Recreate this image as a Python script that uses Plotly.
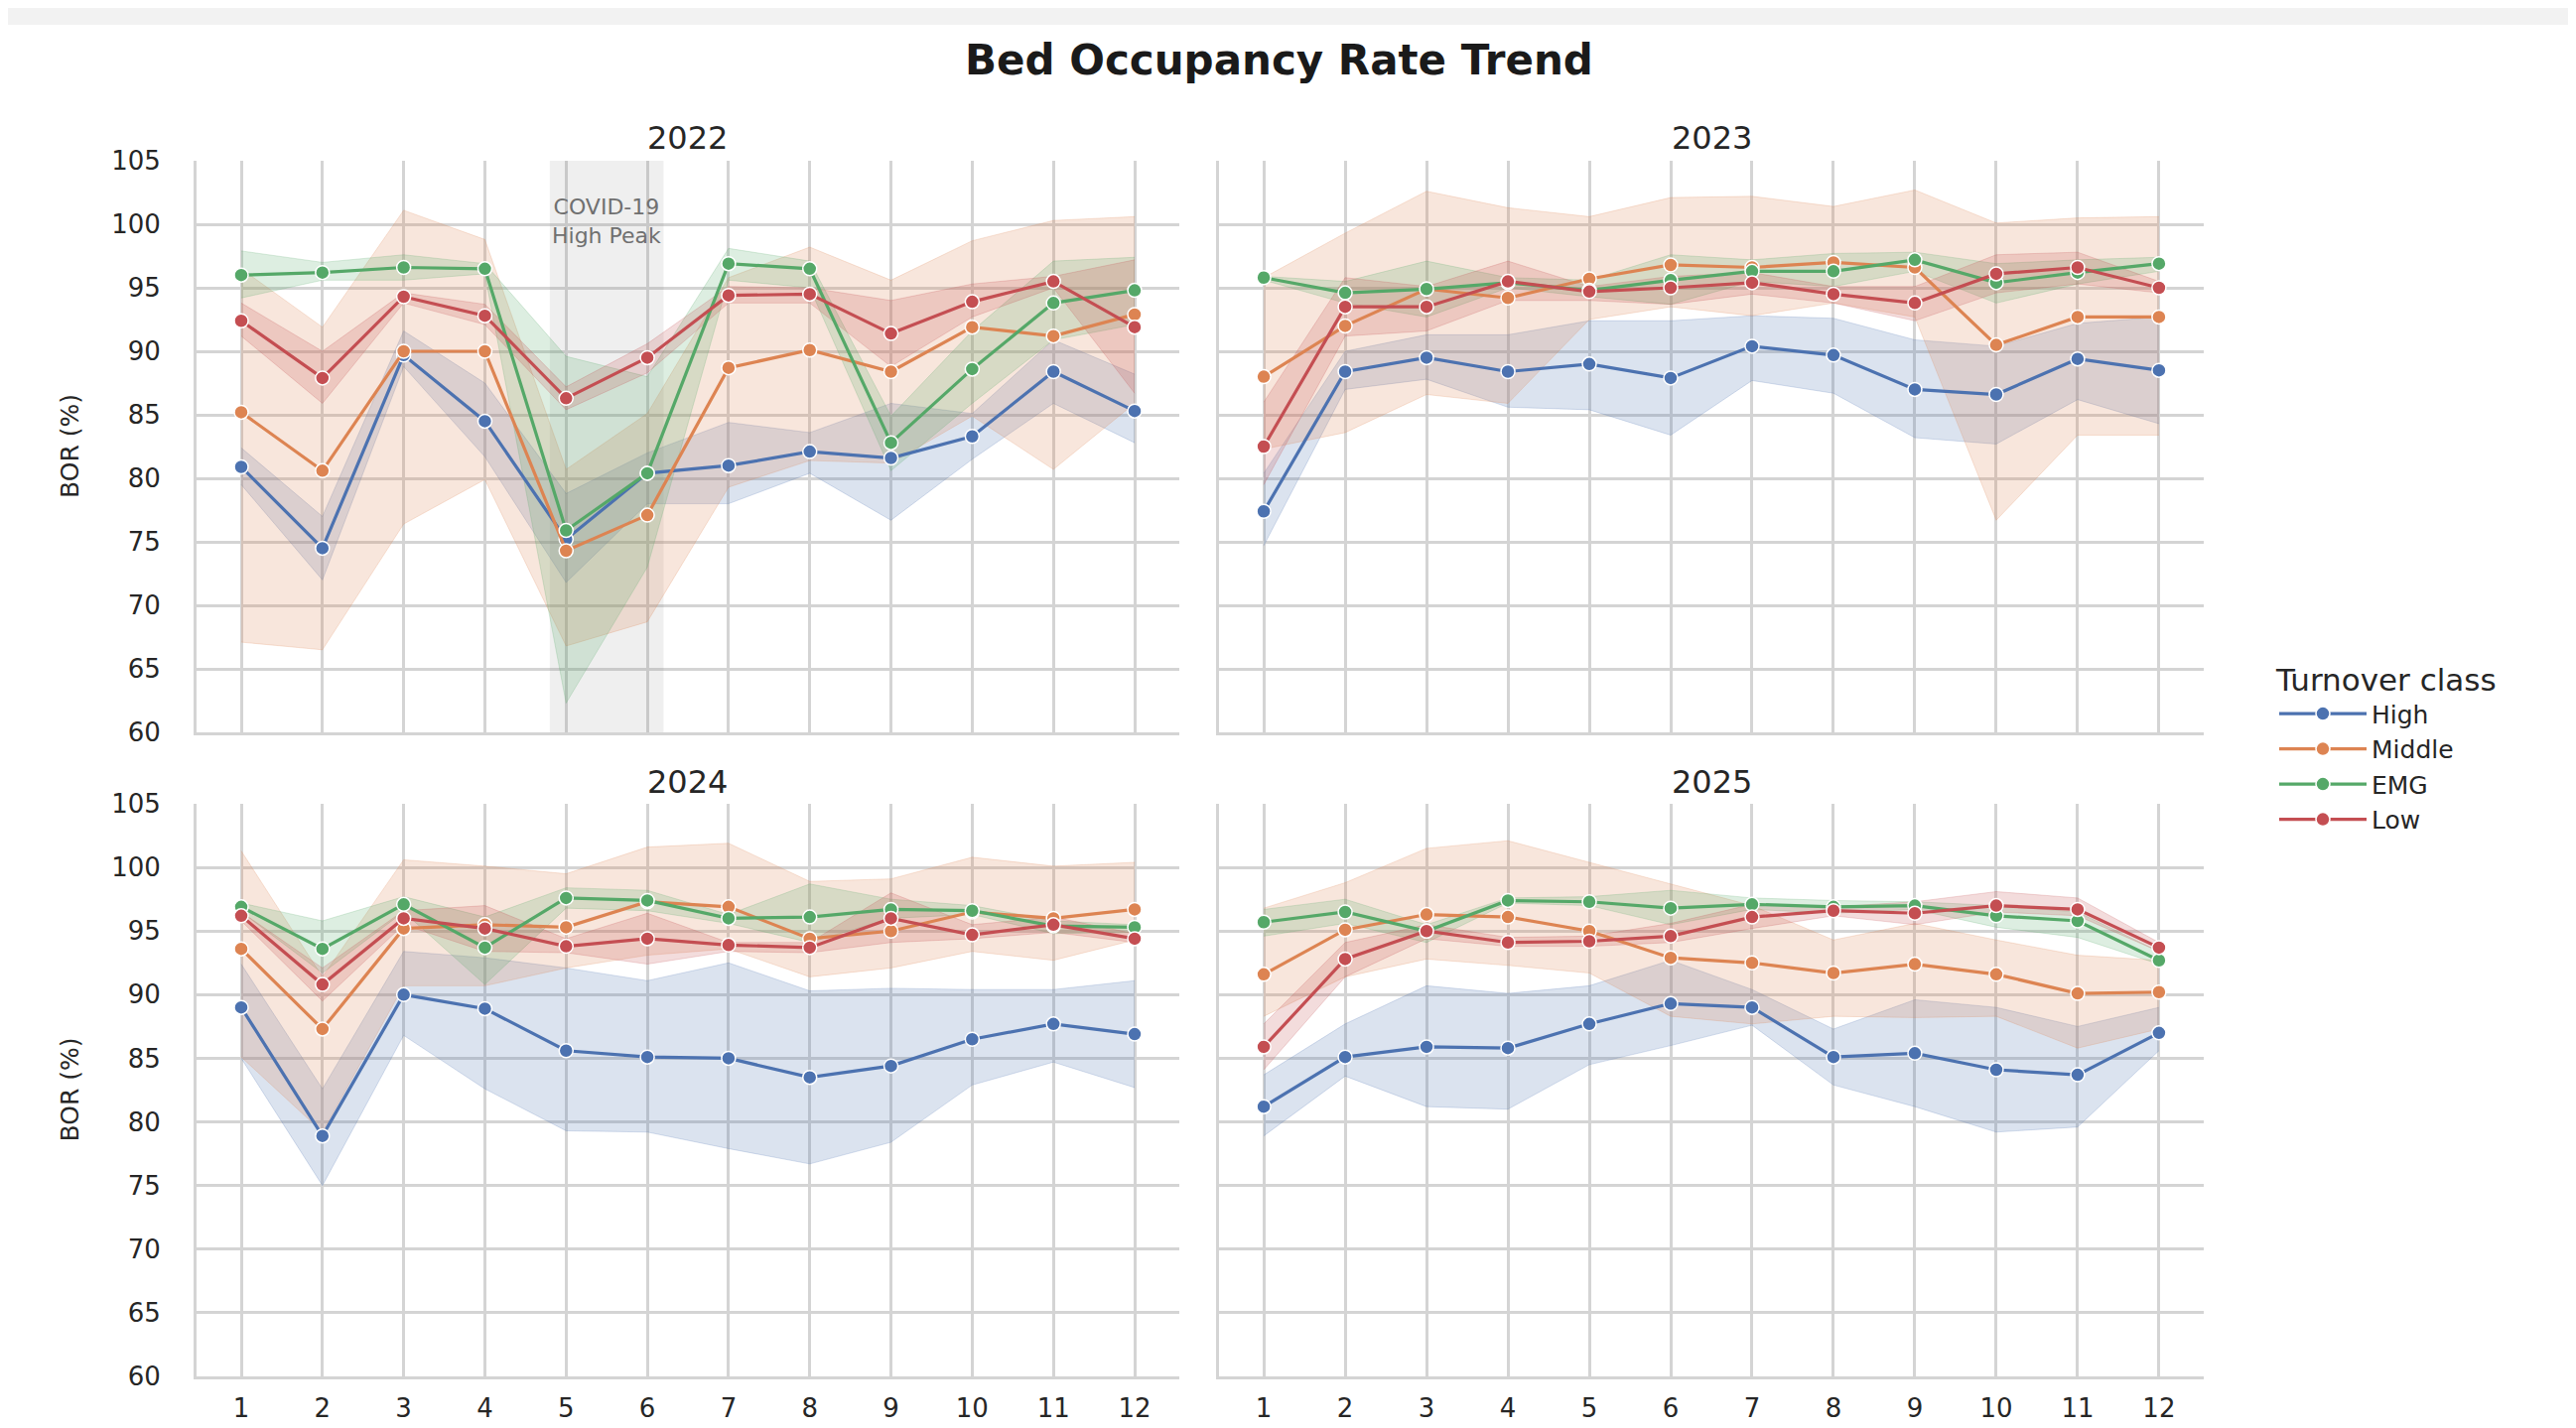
import plotly.graph_objects as go

MONTHS = list(range(1, 13))
YEARS = [2022, 2023, 2024, 2025]
CLASSES = ["High", "Middle", "EMG", "Low"]
COLORS = {"High": "#4C72B0", "Middle": "#DD8452", "EMG": "#55A868", "Low": "#C44E52"}
RGB = {"High": (76, 114, 176), "Middle": (221, 132, 82), "EMG": (85, 168, 104), "Low": (196, 78, 82)}
Y_TICKS = [60, 65, 70, 75, 80, 85, 90, 95, 100, 105]
COVID_SPAN = [4.8, 6.2]

# ---- 2022 ----
HIGH_2022 = [80.9, 74.5, 89.7, 84.5, 75.2, 80.4, 81.0, 82.1, 81.6, 83.3, 88.4, 85.3]
HIGH_2022_LO = [79.5, 72.0, 88.8, 81.7, 71.8, 78.0, 78.0, 80.4, 76.7, 81.5, 85.9, 82.8]
HIGH_2022_HI = [82.4, 77.0, 91.6, 87.5, 78.8, 82.0, 84.4, 83.6, 85.9, 85.1, 90.9, 88.2]
MIDDLE_2022 = [85.2, 80.6, 90.0, 90.0, 74.3, 77.1, 88.7, 90.1, 88.4, 91.9, 91.2, 92.9]
MIDDLE_2022_LO = [67.1, 66.5, 76.4, 79.9, 66.8, 68.7, 79.3, 81.4, 81.2, 84.9, 80.7, 85.9]
MIDDLE_2022_HI = [96.5, 91.9, 101.1, 98.8, 80.7, 85.1, 95.8, 98.2, 95.6, 98.7, 100.3, 100.6]
EMG_2022 = [96.0, 96.2, 96.6, 96.5, 75.9, 80.4, 96.9, 96.5, 82.8, 88.6, 93.8, 94.8]
EMG_2022_LO = [94.2, 95.6, 95.6, 96.1, 62.3, 73.0, 95.6, 95.0, 80.6, 85.9, 90.9, 92.1]
EMG_2022_HI = [97.9, 97.0, 97.6, 96.9, 89.6, 88.0, 98.1, 97.1, 84.9, 91.6, 97.1, 97.4]
LOW_2022 = [92.4, 87.9, 94.3, 92.8, 86.3, 89.5, 94.4, 94.5, 91.4, 93.9, 95.5, 91.9]
LOW_2022_LO = [91.2, 85.9, 93.8, 92.1, 85.4, 88.3, 93.8, 93.8, 88.8, 92.7, 95.0, 86.7]
LOW_2022_HI = [93.8, 90.0, 94.6, 93.7, 87.2, 90.6, 95.1, 95.0, 94.0, 95.3, 95.9, 97.2]

# ---- 2023 ----
HIGH_2023 = [77.4, 88.4, 89.5, 88.4, 89.0, 87.9, 90.4, 89.7, 87.0, 86.6, 89.4, 88.5]
HIGH_2023_LO = [74.7, 87.0, 87.8, 85.6, 85.4, 83.4, 87.7, 86.7, 83.2, 82.7, 86.2, 84.3]
HIGH_2023_HI = [80.4, 90.0, 91.3, 91.3, 92.4, 92.4, 92.8, 92.6, 90.9, 90.4, 92.2, 92.7]
MIDDLE_2023 = [88.0, 92.0, 94.9, 94.2, 95.7, 96.8, 96.6, 97.0, 96.6, 90.5, 92.7, 92.7]
MIDDLE_2023_LO = [82.3, 83.6, 86.6, 85.9, 92.5, 93.5, 92.8, 93.8, 92.7, 76.7, 83.4, 83.4]
MIDDLE_2023_HI = [95.8, 99.3, 102.6, 101.3, 100.6, 102.1, 102.2, 101.4, 102.7, 100.1, 100.5, 100.6]
EMG_2023 = [95.8, 94.6, 94.9, 95.4, 94.8, 95.6, 96.3, 96.3, 97.2, 95.4, 96.2, 96.9]
EMG_2023_LO = [95.6, 93.8, 92.7, 95.0, 94.3, 93.7, 95.5, 95.1, 96.3, 93.8, 95.3, 96.3]
EMG_2023_HI = [95.9, 95.5, 97.1, 95.8, 95.6, 97.6, 97.2, 97.7, 97.8, 96.9, 97.2, 97.4]
LOW_2023 = [82.5, 93.5, 93.5, 95.5, 94.7, 95.0, 95.4, 94.5, 93.8, 96.1, 96.6, 95.0]
LOW_2023_LO = [79.5, 91.2, 91.6, 94.0, 94.0, 93.7, 94.5, 93.8, 92.4, 94.6, 95.3, 94.6]
LOW_2023_HI = [86.0, 95.8, 95.1, 97.1, 95.1, 95.9, 96.2, 95.1, 95.1, 97.6, 97.8, 95.5]

# ---- 2024 ----
HIGH_2024 = [89.0, 78.9, 90.0, 88.9, 85.6, 85.1, 85.0, 83.5, 84.4, 86.5, 87.7, 86.9]
HIGH_2024_LO = [85.0, 75.0, 86.8, 82.6, 79.3, 79.2, 77.9, 76.7, 78.4, 82.9, 84.7, 82.7]
HIGH_2024_HI = [92.4, 82.6, 93.4, 92.9, 92.1, 91.1, 92.5, 90.3, 90.5, 90.4, 90.4, 91.1]
MIDDLE_2024 = [93.6, 87.3, 95.2, 95.5, 95.3, 97.3, 96.9, 94.4, 95.0, 96.5, 96.0, 96.7]
MIDDLE_2024_LO = [85.1, 79.2, 90.7, 90.7, 92.1, 93.1, 93.6, 91.4, 92.1, 93.4, 92.7, 94.3]
MIDDLE_2024_HI = [101.3, 91.4, 100.6, 100.1, 99.5, 101.6, 101.9, 98.9, 99.1, 100.8, 100.1, 100.4]
EMG_2024 = [96.9, 93.6, 97.1, 93.7, 97.6, 97.4, 96.0, 96.1, 96.7, 96.6, 95.4, 95.3]
EMG_2024_LO = [96.5, 91.7, 96.5, 90.8, 96.8, 96.6, 95.6, 94.1, 96.0, 96.3, 94.8, 94.9]
EMG_2024_HI = [97.2, 95.8, 97.7, 96.1, 98.4, 98.2, 96.3, 98.7, 97.5, 97.0, 95.8, 95.5]
LOW_2024 = [96.2, 90.8, 96.0, 95.2, 93.8, 94.4, 93.9, 93.7, 96.0, 94.7, 95.5, 94.4]
LOW_2024_LO = [95.8, 89.5, 95.5, 93.4, 93.3, 92.4, 93.4, 93.3, 94.1, 94.4, 94.9, 94.1]
LOW_2024_HI = [96.5, 92.1, 96.6, 97.0, 94.4, 96.4, 94.1, 94.1, 98.0, 95.5, 96.1, 94.8]

# ---- 2025 ----
HIGH_2025 = [81.2, 85.1, 85.9, 85.8, 87.7, 89.3, 89.0, 85.1, 85.4, 84.1, 83.7, 87.0]
HIGH_2025_LO = [78.9, 83.6, 81.2, 81.0, 84.5, 86.0, 87.6, 82.9, 81.2, 79.2, 79.6, 85.6]
HIGH_2025_HI = [83.7, 87.7, 90.7, 90.1, 90.7, 92.7, 90.4, 87.3, 89.6, 89.0, 87.5, 89.0]
MIDDLE_2025 = [91.6, 95.1, 96.3, 96.1, 95.0, 92.9, 92.5, 91.7, 92.4, 91.6, 90.1, 90.2]
MIDDLE_2025_LO = [88.3, 91.4, 92.8, 92.3, 91.7, 88.3, 87.7, 88.3, 88.2, 88.3, 85.8, 87.3]
MIDDLE_2025_HI = [96.8, 98.8, 101.5, 102.1, 100.4, 98.7, 97.0, 94.3, 95.6, 94.3, 93.1, 92.7]
EMG_2025 = [95.7, 96.5, 95.0, 97.4, 97.3, 96.8, 97.1, 96.9, 97.0, 96.2, 95.8, 92.7]
EMG_2025_LO = [94.6, 95.6, 94.1, 97.2, 97.0, 95.5, 96.7, 96.4, 96.7, 95.3, 94.5, 92.4]
EMG_2025_HI = [96.7, 97.5, 95.5, 97.6, 97.7, 98.2, 97.6, 97.4, 97.3, 97.0, 96.5, 93.4]
LOW_2025 = [85.9, 92.8, 95.0, 94.1, 94.2, 94.6, 96.1, 96.6, 96.4, 97.0, 96.7, 93.7]
LOW_2025_LO = [84.1, 91.4, 94.4, 93.8, 93.8, 94.1, 95.2, 96.2, 95.5, 96.5, 96.2, 93.4]
LOW_2025_HI = [87.7, 94.1, 95.5, 94.5, 94.6, 95.6, 97.1, 96.9, 97.3, 98.1, 97.6, 94.1]

DATA = {
    2022: {"High": (HIGH_2022, HIGH_2022_LO, HIGH_2022_HI),
           "Middle": (MIDDLE_2022, MIDDLE_2022_LO, MIDDLE_2022_HI),
           "EMG": (EMG_2022, EMG_2022_LO, EMG_2022_HI),
           "Low": (LOW_2022, LOW_2022_LO, LOW_2022_HI)},
    2023: {"High": (HIGH_2023, HIGH_2023_LO, HIGH_2023_HI),
           "Middle": (MIDDLE_2023, MIDDLE_2023_LO, MIDDLE_2023_HI),
           "EMG": (EMG_2023, EMG_2023_LO, EMG_2023_HI),
           "Low": (LOW_2023, LOW_2023_LO, LOW_2023_HI)},
    2024: {"High": (HIGH_2024, HIGH_2024_LO, HIGH_2024_HI),
           "Middle": (MIDDLE_2024, MIDDLE_2024_LO, MIDDLE_2024_HI),
           "EMG": (EMG_2024, EMG_2024_LO, EMG_2024_HI),
           "Low": (LOW_2024, LOW_2024_LO, LOW_2024_HI)},
    2025: {"High": (HIGH_2025, HIGH_2025_LO, HIGH_2025_HI),
           "Middle": (MIDDLE_2025, MIDDLE_2025_LO, MIDDLE_2025_HI),
           "EMG": (EMG_2025, EMG_2025_LO, EMG_2025_HI),
           "Low": (LOW_2025, LOW_2025_LO, LOW_2025_HI)},
}

W, H = 2595, 1439
OFF = 8  # page body margin
FONT = "DejaVu Sans"
TXT = "#262626"
GRID = "#d4d4d4"


def px(v):
    return (v - OFF) / W


def py(v):
    return 1 - (v - OFF) / H


X_DOMAINS = [[px(198), px(1188)], [px(1228), px(2220)]]
Y_DOMAINS = [[py(738), py(162)], [py(1387), py(810)]]

fig = go.Figure()

for i, year in enumerate(YEARS):
    ax = "" if i == 0 else str(i + 1)
    xa, ya = "x" + ax, "y" + ax
    for cls in CLASSES:
        mean, lo, hi = DATA[year][cls]
        r, g, b = RGB[cls]
        fig.add_trace(go.Scatter(x=MONTHS, y=lo, mode="lines", xaxis=xa, yaxis=ya,
                                 line=dict(width=1, color=f"rgba({r},{g},{b},0.22)"),
                                 showlegend=False, hoverinfo="skip"))
        fig.add_trace(go.Scatter(x=MONTHS, y=hi, mode="lines", xaxis=xa, yaxis=ya,
                                 line=dict(width=1, color=f"rgba({r},{g},{b},0.22)"),
                                 fill="tonexty", fillcolor=f"rgba({r},{g},{b},0.2)",
                                 showlegend=False, hoverinfo="skip"))
    for cls in CLASSES:
        mean, lo, hi = DATA[year][cls]
        fig.add_trace(go.Scatter(x=MONTHS, y=mean, mode="lines+markers", xaxis=xa, yaxis=ya,
                                 name=cls, legendgroup=cls, showlegend=(i == 0),
                                 line=dict(width=3.2, color=COLORS[cls]),
                                 marker=dict(size=14, color=COLORS[cls],
                                             line=dict(width=1.5, color="white"))))

layout = dict(
    width=W, height=H,
    margin=dict(l=0, r=0, t=0, b=0, autoexpand=False),
    paper_bgcolor="white", plot_bgcolor="white",
    font=dict(family=FONT, color=TXT, size=22),
    showlegend=True,
    legend=dict(
        x=px(2291), y=py(656), xanchor="left", yanchor="top",
        title=dict(text="Turnover class", font=dict(size=31, color=TXT)),
        font=dict(size=25, color=TXT), tracegroupgap=0,
        itemwidth=88, bgcolor="rgba(0,0,0,0)",
    ),
)

for i in range(4):
    col, row = i % 2, i // 2
    ax = "" if i == 0 else str(i + 1)
    layout["xaxis" + ax] = dict(
        domain=X_DOMAINS[col], range=[0.45, 12.55], anchor="y" + ax,
        tickvals=MONTHS, ticktext=[str(m) for m in MONTHS],
        showticklabels=(row == 1), tickfont=dict(size=26, color=TXT),
        ticklabelstandoff=7, automargin=False,
        showgrid=True, gridcolor=GRID, gridwidth=3,
        showline=True, linecolor=GRID, linewidth=3, zeroline=False,
    )
    layout["yaxis" + ax] = dict(
        domain=Y_DOMAINS[row], range=[60, 105], anchor="x" + ax,
        tickvals=Y_TICKS, showticklabels=(col == 0), tickfont=dict(size=26, color=TXT),
        ticklabelstandoff=28, automargin=False,
        showgrid=True, gridcolor=GRID, gridwidth=3,
        showline=True, linecolor=GRID, linewidth=3, zeroline=False,
    )

fig.update_layout(**layout)

# COVID span on 2022 panel
fig.add_shape(type="rect", xref="x", yref="y", x0=COVID_SPAN[0], x1=COVID_SPAN[1],
              y0=60, y1=105, fillcolor="rgba(128,128,128,0.13)", line=dict(width=0),
              layer="between")
fig.add_annotation(x=sum(COVID_SPAN) / 2, y=100.2, xref="x", yref="y",
                   text="COVID-19<br>High Peak", showarrow=False,
                   xanchor="center", yanchor="middle",
                   font=dict(size=22, color="#707070"))

# gray strip at the very top
fig.add_shape(type="rect", xref="paper", yref="paper", x0=0, x1=1, y0=py(25), y1=1,
              fillcolor="#f2f2f2", line=dict(width=0), layer="below")

# titles
fig.add_annotation(x=px(1288), y=py(61), xref="paper", yref="paper",
                   xanchor="center", yanchor="middle",
                   text="<b>Bed Occupancy Rate Trend</b>", showarrow=False,
                   font=dict(size=42, color="#1a1a1a"))
for i, year in enumerate(YEARS):
    col, row = i % 2, i // 2
    cx = (X_DOMAINS[col][0] + X_DOMAINS[col][1]) / 2
    cy = py(139) if row == 0 else py(788)
    fig.add_annotation(x=cx, y=cy, xref="paper", yref="paper", text=str(year),
                       xanchor="center", yanchor="middle",
                       showarrow=False, font=dict(size=32, color=TXT))

for row in range(2):
    cy = (Y_DOMAINS[row][0] + Y_DOMAINS[row][1]) / 2
    fig.add_annotation(x=px(70), y=cy, xref="paper", yref="paper", text="BOR (%)",
                       xanchor="center", yanchor="middle",
                       textangle=-90, showarrow=False, font=dict(size=25, color=TXT))

for col in range(2):
    cx = (X_DOMAINS[col][0] + X_DOMAINS[col][1]) / 2
    fig.add_annotation(x=cx, y=py(1433), xref="paper", yref="paper", text="Month",
                       xanchor="center", yanchor="top", showarrow=False,
                       font=dict(size=26, color=TXT))

fig.write_html("out.html")
